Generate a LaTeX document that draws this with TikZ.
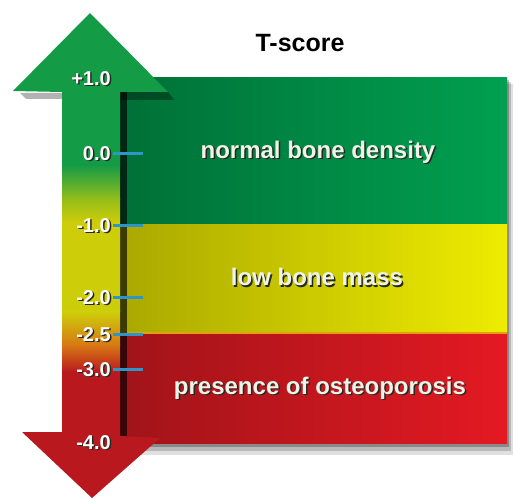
\documentclass[tikz,border=0pt]{standalone}
\usepackage{fontspec}
\setmainfont{Liberation Sans}
\usetikzlibrary{positioning}
\definecolor{arrowgreen}{RGB}{20,155,70}
\definecolor{arrowlime}{RGB}{150,190,25}
\definecolor{arrowyellow}{RGB}{205,205,10}
\definecolor{arroworange}{RGB}{215,120,20}
\definecolor{arrowred}{RGB}{185,25,30}
\definecolor{greenleft}{RGB}{0,112,55}
\definecolor{greenright}{RGB}{0,160,80}
\definecolor{yellowleft}{RGB}{170,168,0}
\definecolor{yellowright}{RGB}{238,236,0}
\definecolor{redleft}{RGB}{160,20,25}
\definecolor{redright}{RGB}{228,25,35}
\definecolor{tickblue}{RGB}{45,150,200}
\definecolor{labelwhite}{RGB}{238,244,232}
\definecolor{textshade}{RGB}{40,40,35}
% text with a small dark drop shadow
\newcommand\shadowed[1]{\rlap{\kern1.5pt\raisebox{-1.5pt}{\textcolor{textshade}{#1}}}#1}
\tikzset{
  numlabel/.style={anchor=east,inner sep=0pt,text=white,font=\bfseries\fontsize{20}{20}\selectfont},
  bandlabel/.style={inner sep=0pt,text=labelwhite,font=\bfseries\fontsize{24}{24}\selectfont},
  tick/.style={tickblue,line width=3pt}
}
\begin{document}
\begin{tikzpicture}[x=1pt,y=-1pt]
\useasboundingbox (0,0) rectangle (515,500);
% shadow of the table
\fill[black,opacity=0.12] (126,84) rectangle (513,455);
\fill[black,opacity=0.18] (124,82) rectangle (511,451);
\fill[black,opacity=0.25] (122,80) rectangle (509,447);
% the three bands
\fill[left color=greenleft,right color=greenright] (120,78) rectangle (507,225);
\fill[left color=yellowleft,right color=yellowright] (120,225) rectangle (507,333);
\fill[left color=redleft,right color=redright] (120,333) rectangle (507,443);
\draw[arroworange!70!yellow,line width=1.2pt] (120,333) -- (507,333);
% dark edge next to the scale
\fill[black,opacity=0.65] (120,92) rectangle (127,436);
% shadow below the arrow heads
\fill[black,opacity=0.3] (20,93) -- (62,93) -- (62,99) -- (26,99) -- cycle;
\fill[black,opacity=0.35] (168,92) -- (120,92) -- (120,100) -- (174,100) -- cycle;
% the scale arrow
\begin{scope}
\clip (13,91) -- (90,13) -- (168,92) -- (120,92) -- (120,436) -- (160,438)
  -- (92,498) -- (22,432) -- (62,432) -- (62,92) -- cycle;
\fill[arrowgreen] (0,0) rectangle (180,165);
\fill[top color=arrowgreen,bottom color=arrowlime] (0,165) rectangle (180,200);
\fill[top color=arrowlime,bottom color=arrowyellow] (0,200) rectangle (180,222);
\fill[arrowyellow] (0,222) rectangle (180,312);
\fill[top color=arrowyellow,bottom color=arroworange] (0,312) rectangle (180,345);
\fill[top color=arroworange,bottom color=arrowred] (0,345) rectangle (180,372);
\fill[arrowred] (0,372) rectangle (180,500);
\end{scope}
% title
\node[font=\bfseries\fontsize{25}{25}\selectfont] (title) at (300,43) {T-score};
% numbers on the scale
\node[numlabel] (p1) at (111,79) {\shadowed{+1.0}};
\node[numlabel] (z0) at (111,154) {\shadowed{0.0}};
\node[numlabel] (m1) at (111,226) {\shadowed{-1.0}};
\node[numlabel] (m2) at (111,298) {\shadowed{-2.0}};
\node[numlabel] (m25) at (111,335) {\shadowed{-2.5}};
\node[numlabel] (m3) at (111,370) {\shadowed{-3.0}};
\node[numlabel] (m4) at (111,443) {\shadowed{-4.0}};
% ticks
\draw[tick] ([xshift=2pt]z0.east) -- ++(30,0);
\draw[tick] ([xshift=2pt]m1.east) -- ++(30,0);
\draw[tick] ([xshift=2pt]m2.east) -- ++(30,0);
\draw[tick] ([xshift=2pt]m25.east) -- ++(30,0);
\draw[tick] ([xshift=2pt]m3.east) -- ++(30,0);
% band texts
\node[bandlabel] (normal) at (318,153) {\shadowed{normal bone density}};
\node[bandlabel] (low) at (317,278) {\shadowed{low bone mass}};
\node[bandlabel] (osteo) at (320,389) {\shadowed{presence of osteoporosis}};
\end{tikzpicture}
\end{document}
